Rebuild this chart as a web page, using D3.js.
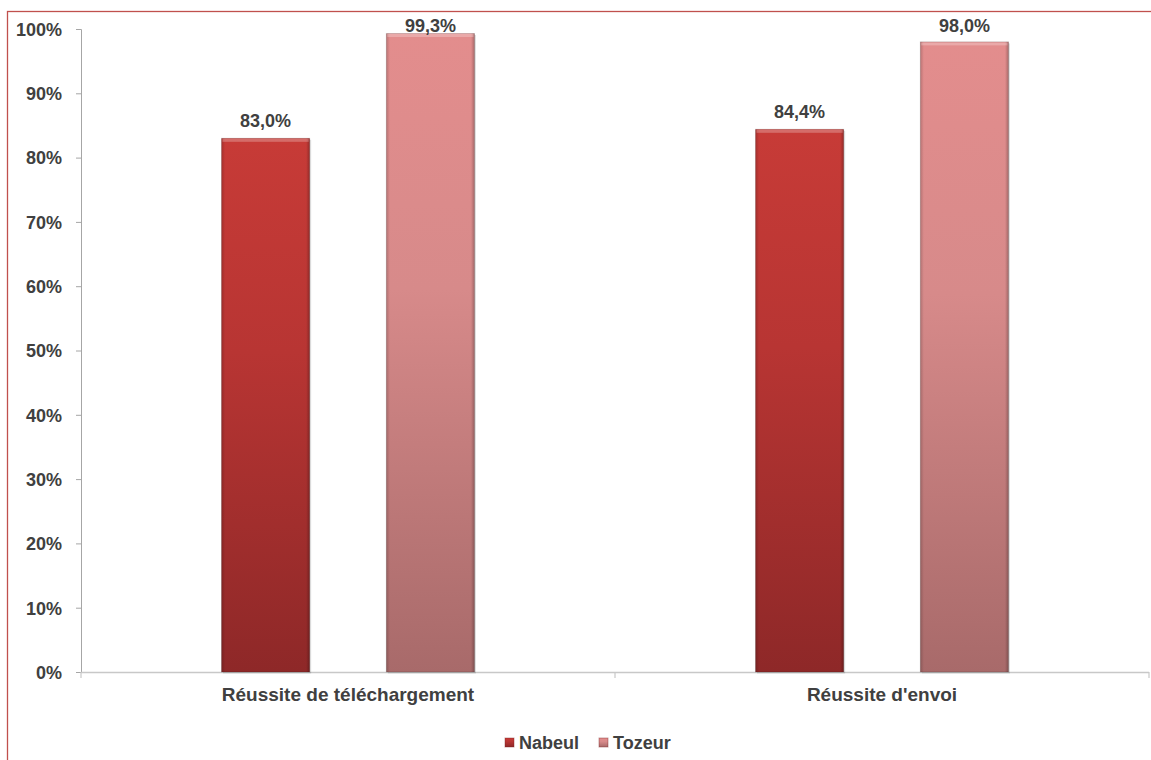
<!DOCTYPE html>
<html><head><meta charset="utf-8">
<script src="https://cdn.jsdelivr.net/npm/d3@7"></script>
<style>body{margin:0;background:#fff}svg{display:block}text{font-family:"Liberation Sans",Arial,sans-serif;font-weight:bold;fill:#404040}</style>
</head><body><svg id="c" width="1151" height="760"></svg>
<script>
const categories = ["Réussite de téléchargement", "Réussite d'envoi"];
const seriesNames = ["Nabeul", "Tozeur"];
const nabeul = [83.0, 84.4];
const tozeur = [99.3, 98.0];
const yTicks = [0,10,20,30,40,50,60,70,80,90,100];

const svg = d3.select("#c");
const m = {l:81, r:1149, t:29, b:672};

// outer border (cut off on right/bottom)
svg.append("rect").attr("x",7.5).attr("y",11.5).attr("width",1200).attr("height",800)
  .attr("fill","none").attr("stroke","#c0504d").attr("stroke-width",1.3);

const y = d3.scaleLinear().domain([0,100]).range([m.b, m.t]);
const x0 = d3.scaleBand().domain(categories).range([m.l, m.r]);
const x1 = d3.scaleBand().domain(seriesNames).range([0, 253]).paddingInner(0.465);

const defs = svg.append("defs");
const cols = {
  Nabeul: ["#c73b37", "#b83533", "#8e2828"],
  Tozeur: ["#e38d8d", "#d78a8a", "#a86a6a"]
};
seriesNames.forEach(s => {
  const g = defs.append("linearGradient").attr("id","g"+s).attr("x1",0).attr("y1",0).attr("x2",0).attr("y2",1);
  g.append("stop").attr("offset","0%").attr("stop-color",cols[s][0]);
  g.append("stop").attr("offset","40%").attr("stop-color",cols[s][1]);
  g.append("stop").attr("offset","100%").attr("stop-color",cols[s][2]);
  const h = defs.append("linearGradient").attr("id","h"+s).attr("x1",0).attr("y1",0).attr("x2",1).attr("y2",0);
  h.append("stop").attr("offset","0%").attr("stop-color","#000").attr("stop-opacity",0.18);
  h.append("stop").attr("offset","4%").attr("stop-color","#000").attr("stop-opacity",0);
  h.append("stop").attr("offset","96%").attr("stop-color","#000").attr("stop-opacity",0);
  h.append("stop").attr("offset","100%").attr("stop-color","#000").attr("stop-opacity",0.25);
});

// y axis
const yAxis = d3.axisLeft(y).tickValues(yTicks).tickSize(5).tickFormat(d => d + "%");
const ya = svg.append("g").attr("transform",`translate(${m.l},0)`).call(yAxis);
ya.select(".domain").attr("stroke","#a6a6a6");
ya.selectAll(".tick line").attr("stroke","#a6a6a6");
ya.selectAll(".tick text").attr("x",-19).attr("dy","0.35em").style("font-size","18px").attr("fill","#404040");

// x axis
const xa = svg.append("g").attr("transform",`translate(0,${m.b})`)
  .call(d3.axisBottom(x0).tickSize(0).tickFormat(""));
xa.select(".domain").remove();
svg.append("line").attr("x1",m.l).attr("x2",m.r).attr("y1",m.b+0.5).attr("y2",m.b+0.5).attr("stroke","#c8c8c8").attr("stroke-width",1.5);
[m.l, (m.l+m.r)/2, m.r].forEach(px => svg.append("line").attr("x1",px).attr("x2",px).attr("y1",m.b).attr("y2",m.b+6).attr("stroke","#c8c8c8").attr("stroke-width",1.2));
categories.forEach(c => {
  svg.append("text").attr("x", x0(c)+x0.bandwidth()/2).attr("y", 701).attr("text-anchor","middle")
    .style("font-size","19px").text(c);
});

// bars
const data = [nabeul, tozeur];
categories.forEach((c, ci) => {
  const off = x0(c) + (x0.bandwidth() - 253) / 2;
  seriesNames.forEach((s, si) => {
    const v = data[si][ci];
    const bx = off + x1(s), bw = x1.bandwidth();
    const by = y(v), bh = y(0) - y(v);
    svg.append("rect").attr("x",bx+1.5).attr("y",by+1.5).attr("width",bw).attr("height",bh).attr("fill","#000").attr("opacity",0.12);
    svg.append("rect").attr("x",bx).attr("y",by).attr("width",bw).attr("height",bh).attr("fill",`url(#g${s})`);
    svg.append("rect").attr("x",bx).attr("y",by).attr("width",bw).attr("height",bh).attr("fill",`url(#h${s})`);
    svg.append("rect").attr("x",bx+1).attr("y",by+0.5).attr("width",bw-2).attr("height",3).attr("fill","#fff").attr("opacity",0.25);
    svg.append("rect").attr("x",bx).attr("y",by).attr("width",bw).attr("height",bh).attr("fill","none").attr("stroke","#000").attr("stroke-opacity",0.15);
    svg.append("text").attr("x",bx+bw/2).attr("y",Math.max(by-11, 32)).attr("text-anchor","middle")
      .style("font-size","18px").text(d3.format(".1f")(v).replace(".",",") + "%");
  });
});

// legend
const lg = svg.append("g");
const legendItems = [{s:"Nabeul", x:505}, {s:"Tozeur", x:599}];
legendItems.forEach(it => {
  lg.append("rect").attr("x",it.x).attr("y",738).attr("width",9).attr("height",9).attr("fill",`url(#g${it.s})`).attr("stroke","#7a2020").attr("stroke-opacity",0.4);
  lg.append("text").attr("x",it.x+14).attr("y",749).style("font-size","18px").text(it.s);
});
</script></body></html>
